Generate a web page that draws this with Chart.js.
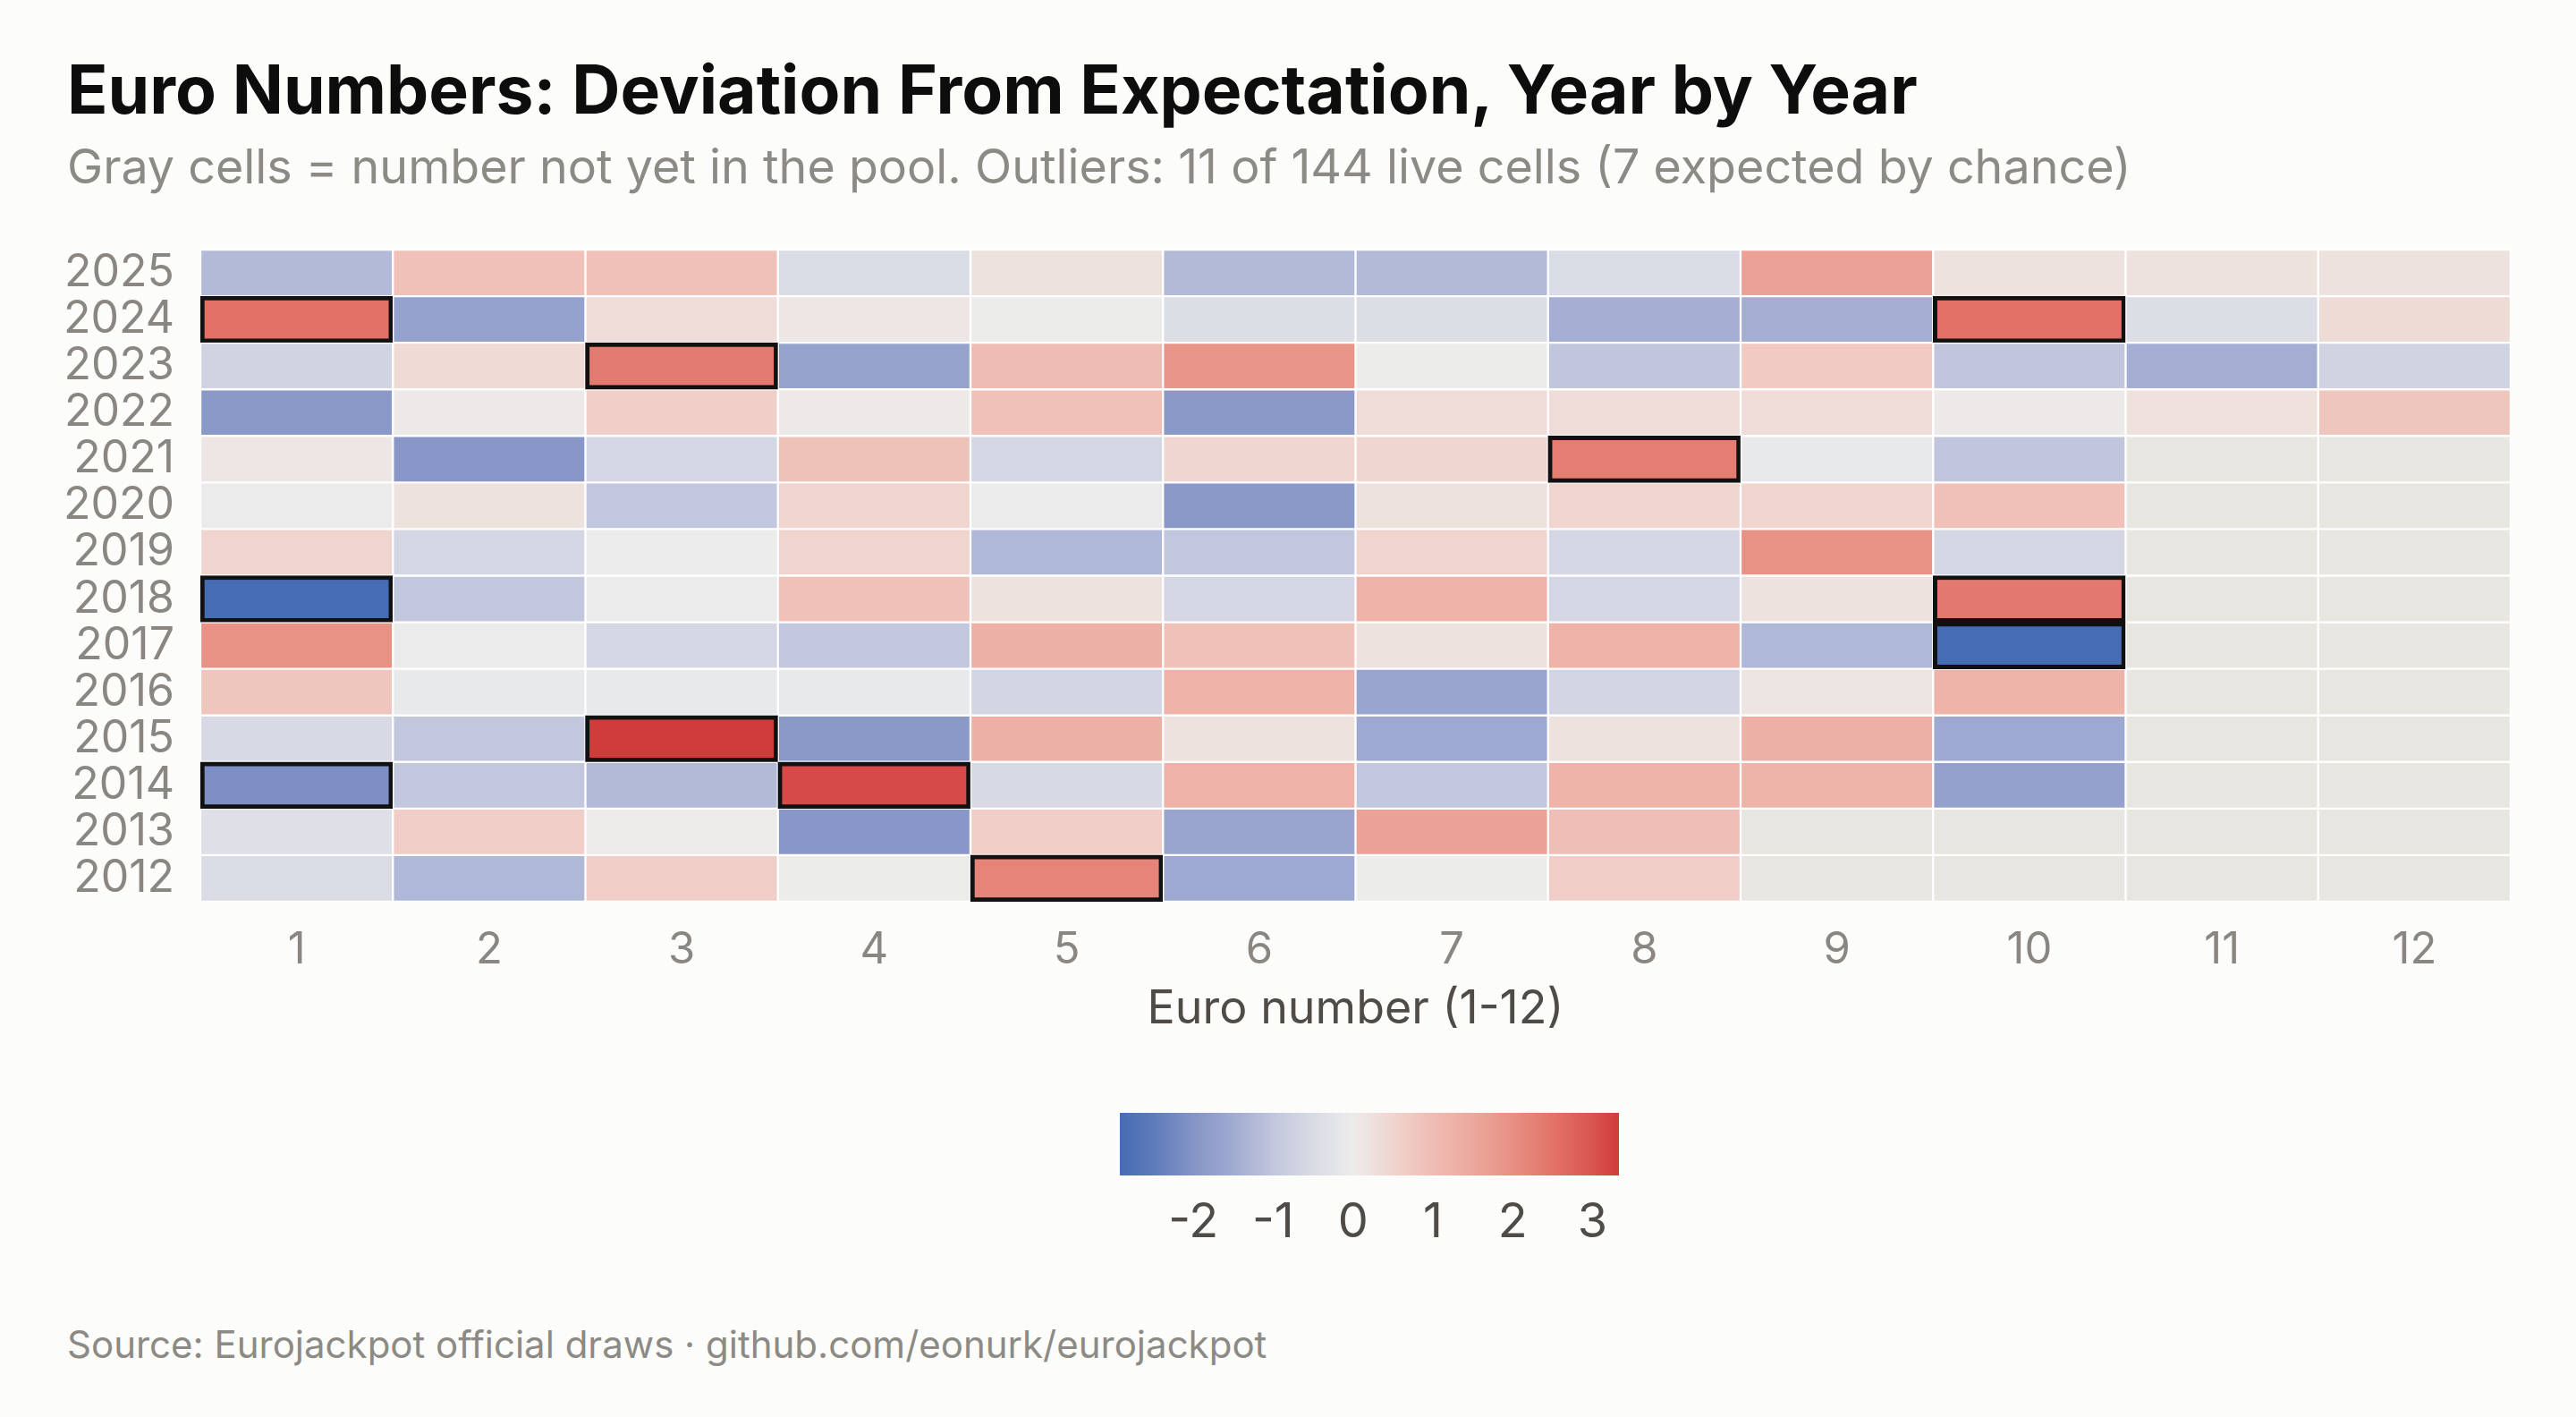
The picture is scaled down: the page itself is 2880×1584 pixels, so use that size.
<!DOCTYPE html>
<html>
<head>
<meta charset="utf-8">
<script src="https://cdn.jsdelivr.net/npm/chart.js@4.4.1/dist/chart.umd.min.js"></script>
<style>
  html, body { margin: 0; padding: 0; background: #fcfcfa; }
  body { width: 2880px; height: 1584px; position: relative; overflow: hidden; font-family: Inter, "Noto Sans", sans-serif; }
  .txt { position: absolute; left: 75px; line-height: 1; white-space: nowrap; }
  #title { top: 62px; font-size: 75px; font-weight: 700; color: #0d0d0d; }
  #subtitle { top: 159px; font-size: 53.8px; color: #8c8a85; }
  #source { top: 1482px; font-size: 42px; color: #8c8a85; }
  #heatWrap { position: absolute; left: 0; top: 250px; width: 2880px; height: 904px; }
  #barWrap { position: absolute; left: 1152px; top: 1244px; width: 758px; height: 200px; }
</style>
</head>
<body>
<div id="title" class="txt">Euro Numbers: Deviation From Expectation, Year by Year</div>
<div id="subtitle" class="txt">Gray cells = number not yet in the pool. Outliers: 11 of 144 live cells (7 expected by chance)</div>
<div id="heatWrap"><canvas id="heatmap"></canvas></div>
<div id="barWrap"><canvas id="colorbar"></canvas></div>
<div id="source" class="txt">Source: Eurojackpot official draws · github.com/eonurk/eurojackpot</div>

<script>
// euro numbers on the x axis, draw years on the y axis
const euroNumbers = ["1", "2", "3", "4", "5", "6", "7", "8", "9", "10", "11", "12"];
const years = [2012, 2013, 2014, 2015, 2016, 2017, 2018, 2019, 2020, 2021, 2022, 2023, 2024, 2025];

// deviation (z-score) per euro number, null = number not yet in the pool
const y2025 = [-1.22, 0.9, 0.9, -0.47, 0.21, -1.22, -1.22, -0.47, 1.64, 0.21, 0.21, 0.21];
const y2024 = [2.56, -1.7, 0.33, 0.12, 0.0, -0.42, -0.42, -1.45, -1.45, 2.56, -0.42, 0.36];
const y2023 = [-0.69, 0.38, 2.37, -1.68, 1.0, 1.86, 0.0, -1.0, 0.7, -1.0, -1.45, -0.69];
const y2022 = [-1.89, 0.06, 0.6, 0.06, 0.9, -1.89, 0.33, 0.33, 0.33, 0.06, 0.23, 0.8];
const y2021 = [0.12, -1.94, -0.6, 0.88, -0.6, 0.45, 0.45, 2.31, -0.1, -1.0, null, null];
const y2020 = [-0.02, 0.2, -0.97, 0.5, -0.02, -1.9, 0.2, 0.5, 0.5, 0.9, null, null];
const y2019 = [0.5, -0.6, -0.02, 0.5, -1.26, -0.97, 0.5, -0.6, 1.95, -0.6, null, null];
const y2018 = [-2.92, -0.97, -0.02, 0.9, 0.21, -0.6, 1.25, -0.6, 0.21, 2.4, null, null];
const y2017 = [1.95, -0.02, -0.6, -0.97, 1.3, 0.9, 0.21, 1.25, -1.26, -2.92, null, null];
const y2016 = [0.8, -0.1, -0.1, -0.1, -0.65, 1.25, -1.63, -0.65, 0.15, 1.2, null, null];
const y2015 = [-0.55, -0.97, 3.33, -1.89, 1.3, 0.21, -1.55, 0.21, 1.3, -1.55, null, null];
const y2014 = [-2.1, -0.97, -1.22, 3.12, -0.55, 1.25, -0.97, 1.2, 1.2, -1.72, null, null];
const y2013 = [-0.37, 0.65, 0.02, -1.94, 0.65, -1.63, 1.64, 0.95, null, null, null, null];
const y2012 = [-0.5, -1.26, 0.65, 0.0, 2.2, -1.55, 0.0, 0.65, null, null, null, null];
const rows = [y2012, y2013, y2014, y2015, y2016, y2017, y2018, y2019, y2020, y2021, y2022, y2023, y2024, y2025];

const outlierLimit = 2;
const colorbarTicks = [-2, -1, 0, 1, 2, 3];

// diverging colour map, sampled off the colour bar
const mapValues = [-2.92, -2.5, -2, -1.5, -1, -0.5, 0, 0.5, 1, 1.5, 2, 2.5, 3, 3.33];
const mapColors = ["#466cb4", "#5e7bbb", "#8594c6", "#a0abd1", "#c2c6dd", "#d9dbe5", "#ececeb",
                   "#f0d4ce", "#efbcb3", "#eca89d", "#e88f83", "#e27469", "#d95450", "#d03c3c"];
const missingColor = "#e8e6e1";

const hexToRgb = (h) => [1, 3, 5].map((i) => parseInt(h.slice(i, i + 2), 16));

function colorFor(v) {
  if (v === null) return missingColor;
  if (v <= mapValues[0]) return mapColors[0];
  const last = mapValues.length - 1;
  if (v >= mapValues[last]) return mapColors[last];
  let i = 0;
  while (v > mapValues[i + 1]) i++;
  const t = (v - mapValues[i]) / (mapValues[i + 1] - mapValues[i]);
  const a = hexToRgb(mapColors[i]);
  const b = hexToRgb(mapColors[i + 1]);
  const c = a.map((x, k) => Math.round(x + (b[k] - x) * t));
  return "rgb(" + c.join(",") + ")";
}

const allValues = rows.flat().filter((v) => v !== null);
const vmin = Math.min(...allValues);
const vmax = Math.max(...allValues);

const tickColor = "#8a8782";
const darkText = "#4f4c48";

const heatDatasets = rows.map((vals, r) => {
  const year = years[r];
  const isOut = vals.map((v) => v !== null && Math.abs(v) >= outlierLimit);
  return {
    label: String(year),
    data: vals.map(() => [year - 0.5, year + 0.5]),
    backgroundColor: vals.map(colorFor),
    borderColor: isOut.map((o) => (o ? "#111111" : "#ffffff")),
    borderWidth: isOut.map((o) => (o ? 5 : 1.5)),
    borderSkipped: false,
    grouped: false,
    barPercentage: 1,
    categoryPercentage: 1,
    order: isOut.some((o) => o) ? 0 : 1,
  };
});

new Chart(document.getElementById("heatmap"), {
  type: "bar",
  data: { labels: euroNumbers, datasets: heatDatasets },
  options: {
    responsive: true,
    maintainAspectRatio: false,
    animation: false,
    layout: { padding: { top: 29, right: 73, left: 0, bottom: 0 } },
    plugins: { legend: { display: false }, tooltip: { enabled: false } },
    scales: {
      x: {
        grid: { display: false, drawTicks: false },
        border: { display: false },
        ticks: { color: tickColor, font: { family: "Inter", size: 49 }, padding: 25, maxRotation: 0 },
        title: {
          display: true,
          text: "Euro number (1-12)",
          color: darkText,
          font: { family: "Inter", size: 52, lineHeight: 1 },
          padding: 0,
        },
        afterFit: (scale) => { scale.height = 146; },
      },
      y: {
        type: "linear",
        min: years[0] - 0.5,
        max: years[years.length - 1] + 0.5,
        grid: { display: false, drawTicks: false },
        border: { display: false },
        afterBuildTicks: (scale) => { scale.ticks = years.map((v) => ({ value: v })); },
        ticks: {
          color: tickColor,
          font: { family: "Inter", size: 50 },
          padding: 29,
          autoSkip: false,
          callback: (v) => String(v),
        },
        afterFit: (scale) => {
          scale.width = 224;
          scale.paddingTop = 0;
          scale.paddingBottom = 0;
        },
      },
    },
  },
});

// colour bar
new Chart(document.getElementById("colorbar"), {
  type: "bar",
  data: {
    labels: [""],
    datasets: [{
      data: [[vmin, vmax]],
      barPercentage: 1,
      categoryPercentage: 1,
      borderWidth: 0,
      backgroundColor: (ctx) => {
        const chart = ctx.chart;
        const area = chart.chartArea;
        if (!area) return "#ececeb";
        const xs = chart.scales.x;
        const g = chart.ctx.createLinearGradient(area.left, 0, area.right, 0);
        mapValues.forEach((v, i) => {
          const off = (xs.getPixelForValue(v) - area.left) / (area.right - area.left);
          g.addColorStop(Math.min(1, Math.max(0, off)), mapColors[i]);
        });
        return g;
      },
    }],
  },
  options: {
    indexAxis: "y",
    responsive: true,
    maintainAspectRatio: false,
    animation: false,
    layout: { padding: { left: 100, right: 100, top: 0, bottom: 0 } },
    plugins: { legend: { display: false }, tooltip: { enabled: false } },
    scales: {
      y: { display: false },
      x: {
        type: "linear",
        min: vmin,
        max: vmax,
        z: 1,
        border: { display: false },
        grid: { display: true, color: "#ffffff", lineWidth: 2, drawTicks: false, borderDash: [13, 44] },
        afterBuildTicks: (scale) => { scale.ticks = colorbarTicks.map((v) => ({ value: v })); },
        ticks: { color: darkText, font: { family: "Inter", size: 54 }, padding: 20, callback: (v) => String(v) },
        afterFit: (scale) => { scale.height = 130; },
      },
    },
  },
});
</script>
</body>
</html>
